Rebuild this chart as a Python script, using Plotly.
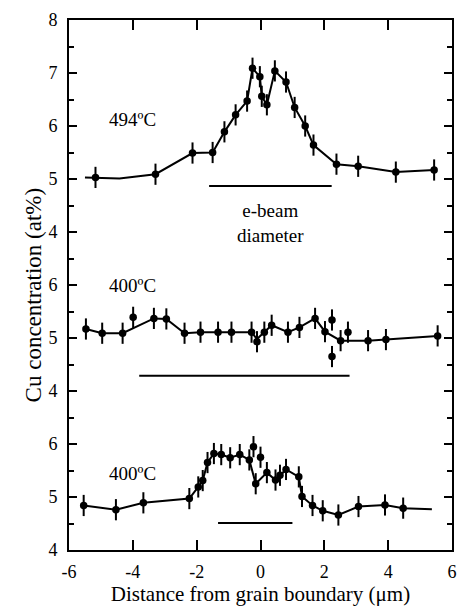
import plotly.graph_objects as go

# ---------------- data ----------------
# Top panel: 494ºC
top_x = [-5.17, -3.29, -2.13, -1.50, -1.13, -0.78, -0.42, -0.25, -0.02, 0.04,
         0.20, 0.45, 0.80, 1.07, 1.40, 1.66, 2.38, 3.06, 4.24, 5.44]
top_y = [5.03, 5.09, 5.49, 5.50, 5.89, 6.21, 6.47, 7.09, 6.93, 6.56,
         6.40, 7.04, 6.83, 6.35, 6.00, 5.64, 5.28, 5.24, 5.13, 5.17]
top_line_x = [-5.50, -4.42, -3.29, -2.13, -1.50, -1.13, -0.78, -0.42, -0.25, -0.02,
              0.04, 0.20, 0.45, 0.80, 1.07, 1.40, 1.66, 2.38, 3.06, 4.24, 5.44]
top_line_y = [5.03, 5.01, 5.09, 5.49, 5.50, 5.89, 6.21, 6.47, 7.09, 6.93,
              6.56, 6.40, 7.04, 6.83, 6.35, 6.00, 5.64, 5.28, 5.24, 5.13, 5.17]
top_beam_x = [-1.61, 2.23]
top_beam_y = [4.87, 4.87]

# Middle panel: 400ºC
mid_x = [-5.47, -4.96, -4.32, -3.99, -3.34, -2.95, -2.38, -1.88, -1.33, -0.91,
         -0.28, -0.11, 0.12, 0.35, 0.86, 1.22, 1.71, 2.02, 2.24, 2.24,
         2.51, 2.74, 3.37, 3.93, 5.55]
mid_y = [5.17, 5.09, 5.09, 5.39, 5.37, 5.36, 5.09, 5.11, 5.11, 5.11,
         5.11, 4.93, 5.11, 5.24, 5.11, 5.20, 5.37, 5.12, 5.34, 4.65,
         4.95, 5.11, 4.95, 4.97, 5.04]
mid_line_x = [-5.47, -4.96, -4.32, -3.34, -2.95, -2.38, -1.88, -1.33, -0.91, -0.28,
              -0.11, 0.12, 0.35, 0.86, 1.22, 1.71, 2.02, 2.51, 3.37, 3.93, 5.55]
mid_line_y = [5.17, 5.09, 5.09, 5.37, 5.36, 5.09, 5.11, 5.11, 5.11, 5.11,
              4.98, 5.11, 5.24, 5.11, 5.20, 5.37, 5.12, 4.95, 4.95, 4.97, 5.04]
mid_beam_x = [-3.80, 2.79]
mid_beam_y = [4.29, 4.29]

# Bottom panel: 400ºC
bot_x = [-5.54, -4.53, -3.67, -2.23, -1.95, -1.81, -1.66, -1.46, -1.23, -0.95,
         -0.65, -0.35, -0.22, -0.15, 0.00, 0.20, 0.47, 0.61, 0.80, 1.20,
         1.30, 1.63, 1.95, 2.44, 3.07, 3.90, 4.47]
bot_y = [4.84, 4.76, 4.89, 4.97, 5.19, 5.31, 5.65, 5.82, 5.80, 5.74,
         5.80, 5.70, 5.95, 5.25, 5.75, 5.46, 5.32, 5.41, 5.52, 5.38,
         5.01, 4.84, 4.74, 4.66, 4.82, 4.85, 4.79]
bot_line_x = [-5.54, -4.53, -3.67, -2.23, -1.95, -1.81, -1.66, -1.46, -1.23, -0.95,
              -0.65, -0.35, -0.15, 0.20, 0.47, 0.61, 0.80, 1.20, 1.30, 1.63,
              1.95, 2.44, 3.07, 3.90, 4.47, 5.37]
bot_line_y = [4.84, 4.76, 4.89, 4.97, 5.19, 5.31, 5.65, 5.82, 5.80, 5.74,
              5.80, 5.70, 5.25, 5.46, 5.32, 5.41, 5.52, 5.38, 5.01, 4.84,
              4.74, 4.66, 4.82, 4.85, 4.79, 4.77]
bot_beam_x = [-1.33, 1.00]
bot_beam_y = [4.51, 4.51]

err_val = 0.2

panel_labels = ["494ºC", "400ºC", "400ºC"]
y_tick_text = ["4", "5", "6", "4", "5", "6", "4", "5", "6", "7", "8"]
x_tick_vals = [-6, -4, -2, 0, 2, 4, 6]
x_tick_text = ["-6", "-4", "-2", "0", "2", "4", "6"]

# vertical offsets that stack the three panels on one axis
shift_top, shift_mid, shift_bot = 2, -1, -4

FONT = "Liberation Serif, Times New Roman, serif"

fig = go.Figure()

def add_panel(px, py, lx, ly, bx, by, shift):
    fig.add_trace(go.Scatter(
        x=lx, y=[v + shift for v in ly], mode="lines",
        line=dict(color="black", width=2), showlegend=False, hoverinfo="skip"))
    fig.add_trace(go.Scatter(
        x=px, y=[v + shift for v in py], mode="markers",
        marker=dict(color="black", size=7.5),
        error_y=dict(type="constant", value=err_val, thickness=2, width=0, color="black"),
        showlegend=False))
    fig.add_trace(go.Scatter(
        x=bx, y=[v + shift for v in by], mode="lines",
        line=dict(color="black", width=2), showlegend=False, hoverinfo="skip"))

add_panel(top_x, top_y, top_line_x, top_line_y, top_beam_x, top_beam_y, shift_top)
add_panel(mid_x, mid_y, mid_line_x, mid_line_y, mid_beam_x, mid_beam_y, shift_mid)
add_panel(bot_x, bot_y, bot_line_x, bot_line_y, bot_beam_x, bot_beam_y, shift_bot)

ann_font = dict(family=FONT, size=19, color="black")
fig.add_annotation(x=-4.0, y=6.12 + shift_top, text=panel_labels[0], showarrow=False, font=ann_font)
fig.add_annotation(x=-4.0, y=6.0 + shift_mid, text=panel_labels[1], showarrow=False, font=ann_font)
fig.add_annotation(x=-4.0, y=5.45 + shift_bot, text=panel_labels[2], showarrow=False, font=ann_font)
fig.add_annotation(x=0.3, y=4.64 + shift_top, text="e-beam<br>diameter", showarrow=False,
                   font=ann_font, align="center", yanchor="top")

# y-axis title (placed as an annotation so it can sit where the reference has it)
fig.add_annotation(xref="paper", yref="paper", x=-0.131, y=0.481,
                   text="Cu concentration (at%)", textangle=-90, showarrow=False,
                   font=dict(family=FONT, size=23, color="black"))

fig.update_layout(
    width=467, height=612,
    margin=dict(l=69, r=10, t=10, b=61),
    paper_bgcolor="white", plot_bgcolor="white",
    font=dict(family=FONT, size=18, color="black"),
    xaxis=dict(
        range=[-6, 6], tickvals=x_tick_vals, ticktext=x_tick_text,
        ticks="inside", ticklen=10, tickwidth=2, tickcolor="black",
        showline=True, linewidth=2, linecolor="black", mirror="ticks",
        showgrid=False, zeroline=False, ticklabelstandoff=4,
        title=dict(text="Distance from grain boundary (μm)", font=dict(size=21), standoff=6),
    ),
    yaxis=dict(
        range=[0, 10], tickvals=list(range(11)), ticktext=y_tick_text,
        ticks="inside", ticklen=8, tickwidth=2, tickcolor="black",
        showline=True, linewidth=2, linecolor="black", mirror="ticks",
        showgrid=False, zeroline=False, ticklabelstandoff=6,
        minor=dict(tickvals=[i + 0.5 for i in range(10)], ticks="inside",
                   ticklen=5, tickwidth=2, tickcolor="black", showgrid=False),
    ),
)

fig.write_html("out.html")
